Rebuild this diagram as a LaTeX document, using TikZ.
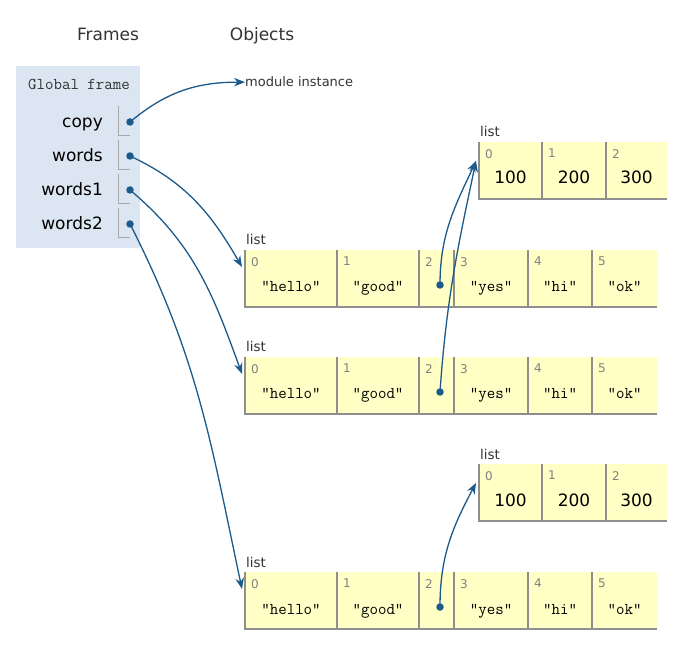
\documentclass[tikz,border=0pt]{standalone}
\usepackage{fontspec}
\setsansfont{DejaVu Sans}
\usetikzlibrary{arrows.meta}
\definecolor{framebg}{HTML}{DCE6F2}
\definecolor{cellbg}{HTML}{FFFFC6}
\definecolor{celledge}{HTML}{8E8E8E}
\definecolor{slotedge}{HTML}{A8A8A8}
\definecolor{linkblue}{HTML}{1B5A8A}
\definecolor{txtgrey}{HTML}{333333}
\definecolor{idxgrey}{HTML}{808080}
\tikzset{
  ptr/.style={draw=linkblue, line width=1.3pt, -{Stealth[length=11pt,width=8.5pt]}},
  dot/.style={circle, fill=linkblue, inner sep=0pt, minimum size=7.5pt},
  hdr/.style={font=\sffamily\fontsize{17}{20}\selectfont, text=txtgrey, anchor=base, inner sep=0pt},
  gframe/.style={font=\ttfamily\fontsize{16.5}{19}\selectfont, text=txtgrey, anchor=base, inner sep=0pt},
  varname/.style={font=\sffamily\fontsize{17}{20}\selectfont, anchor=base east, inner sep=0pt},
  lbl/.style={font=\sffamily\fontsize{13.5}{16}\selectfont, text=txtgrey, anchor=base west, inner sep=0pt},
  idx/.style={font=\sffamily\fontsize{12}{14}\selectfont, text=idxgrey, anchor=north west, inner sep=0pt},
  strval/.style={font=\ttfamily\fontsize{16.5}{18}\selectfont, anchor=base, inner sep=0pt},
  numval/.style={font=\sffamily\fontsize{17}{20}\selectfont, anchor=base, inner sep=0pt},
  slot/.style={draw=slotedge, line width=1pt},
  celline/.style={draw=celledge, line width=1.2pt},
}
\begin{document}
\begin{tikzpicture}[x=1pt,y=-1pt]
\useasboundingbox (0,0) rectangle (699,652);
% frames
\fill[framebg] (16,66) rectangle (140,248);
\node[hdr] (frames) at (108,41) {Frames};
\node[hdr] (objects) at (262,41) {Objects};
\node[gframe] (gf) at (79,90) {Global frame};
\foreach \v/\y in {copy/122,words/156,words1/190,words2/224}{
  \node[varname] (n-\v) at (103,\y+6) {\v};
  \draw[slot] (118,\y-16) -- (118,\y+14) -- (130,\y+14);
  \node[dot] (d-\v) at (130,\y) {};
}
\node[lbl,font=\sffamily\fontsize{13}{16}\selectfont] (mi) at (245,87) {module instance};
% big lists
\foreach \t/\n in {250/a,357/b,572/c}{
  \node[lbl] (\n-lbl) at (246,\t-5) {list};
  \fill[cellbg] (245,\t) rectangle (657,\t+57);
  \foreach \xa/\xb/\i/\s in {245/337/0/"hello",337/419/1/"good",419/454/2/,454/528/3/"yes",528/592/4/"hi",592/657/5/"ok"}{
    \draw[celline] (\xa,\t) -- (\xa,\t+57) -- (\xb,\t+57);
    \node[idx] (\n-i\i) at (\xa+6,\t+7) {\i};
    \node[strval] (\n-v\i) at ({(\xa+\xb)/2},\t+42) {\s};
  }
  \coordinate (\n) at (242,\t+17);
  \node[dot] (\n-dot) at (440,\t+35) {};
}
% small lists
\foreach \t/\n in {142/p,464/q}{
  \node[lbl] (\n-lbl) at (480,\t-5) {list};
  \fill[cellbg] (479,\t) rectangle (667,\t+57);
  \foreach \xa/\xb/\i/\s in {479/542/0/100,542/606/1/200,606/667/2/300}{
    \draw[celline] (\xa,\t) -- (\xa,\t+57) -- (\xb,\t+57);
    \node[idx] (\n-i\i) at (\xa+6,\t+7) {\i};
    \node[numval] (\n-v\i) at ({(\xa+\xb)/2},\t+42) {\s};
  }
  \coordinate (\n) at (476,\t+19);
}
% pointers
\draw[ptr] (d-copy.center) to[out=40,in=180] (mi.west);
\draw[ptr] (d-words.center) to[out=-25,in=120] (a);
\draw[ptr] (d-words1.center) to[out=-40,in=110] (b);
\draw[ptr] (d-words2.center) to[out=-63,in=102] (c);
\draw[ptr] (a-dot.center) to[out=90,in=-115] (p);
\draw[ptr] (b-dot.center) to[out=86,in=-102] (p);
\draw[ptr] (c-dot.center) to[out=90,in=-118] (q);
\end{tikzpicture}
\end{document}
